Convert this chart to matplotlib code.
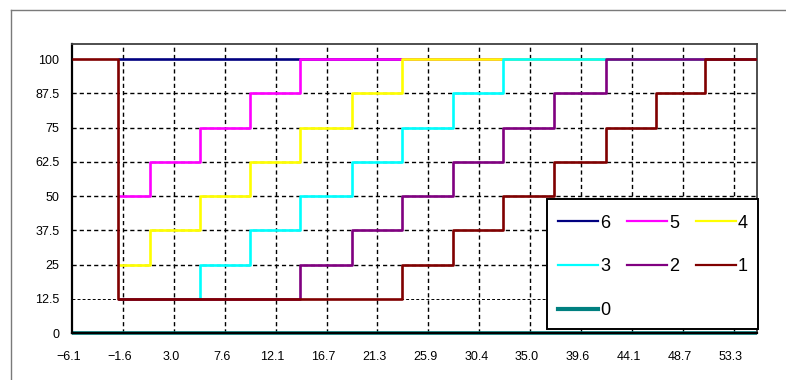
import numpy as np
import matplotlib
matplotlib.use("Agg")
import matplotlib.pyplot as plt
from matplotlib.lines import Line2D
from matplotlib.patches import Rectangle
from matplotlib.transforms import ScaledTranslation

plt.rcParams['font.family'] = ['Liberation Sans', 'DejaVu Sans']

# step positions (x where each level starts)
x_steps = [-6.1, -2.0, 0.9, 5.4, 9.9, 14.4, 19.0, 23.5, 28.1, 32.6, 37.2, 41.8, 46.3, 50.7, 55.4]

nan = np.nan
s6 = [nan, 100, 100, 100, 100, 100, 100, 100, 100, 100, 100, 100, 100, 100, 100]
s5 = [nan, 50, 62.5, 75, 87.5, 100, 100, 100, 100, 100, 100, 100, 100, 100, 100]
s4 = [nan, 25, 37.5, 50, 62.5, 75, 87.5, 100, 100, 100, 100, 100, 100, 100, 100]
s3 = [nan, 12.5, 12.5, 25, 37.5, 50, 62.5, 75, 87.5, 100, 100, 100, 100, 100, 100]
s2 = [nan, 12.5, 12.5, 12.5, 12.5, 25, 37.5, 50, 62.5, 75, 87.5, 100, 100, 100, 100]
s1 = [100, 12.5, 12.5, 12.5, 12.5, 12.5, 12.5, 25, 37.5, 50, 62.5, 75, 87.5, 100, 100]
s0 = [0, 0, 0, 0, 0, 0, 0, 0, 0, 0, 0, 0, 0, 0, 0]

series_names = ["6", "5", "4", "3", "2", "1", "0"]
series_colors = ["#000080", "#ff00ff", "#ffff00", "#00ffff", "#800080", "#800000", "#008080"]

x_tick_labels = ["\u22126.1", "\u22121.6", "3.0", "7.6", "12.1", "16.7", "21.3",
                 "25.9", "30.4", "35.0", "39.6", "44.1", "48.7", "53.3"]
x_tick_step = 4.57
y_ticks = [0, 12.5, 25, 37.5, 50, 62.5, 75, 87.5, 100]
y_tick_labels = ["0", "12.5", "25", "37.5", "50", "62.5", "75", "87.5", "100"]

fig = plt.figure(figsize=(7.86, 3.80), dpi=100)
ax = fig.add_axes([72 / 786, 1 - 333 / 380, (757 - 72) / 786, (333 - 44) / 380])

# outer frame (only top/left visible)
fig.add_artist(Line2D([11 / 786, 11 / 786], [0, 1 - 10 / 380], transform=fig.transFigure,
                      color="#7a7a7a", lw=1.0))
fig.add_artist(Line2D([11 / 786, 1], [1 - 10 / 380, 1 - 10 / 380], transform=fig.transFigure,
                      color="#7a7a7a", lw=1.0))

x_ticks = [x_steps[0] + i * x_tick_step for i in range(len(x_tick_labels))]

# dashed grid
for xv in x_ticks[1:]:
    ax.axvline(xv, color="black", lw=1.0, dashes=(3, 2.2), zorder=1)
for yv in y_ticks[1:-1]:
    ax.axhline(yv, color="black", lw=1.0 if yv != 12.5 else 0.7, dashes=(3, 2.2), zorder=1)

handles = {}
all_series = [s6, s5, s4, s3, s2, s1, s0]
for name, vals, col in zip(series_names, all_series, series_colors):
    lw = 2.6 if name == "0" else 1.9
    ln, = ax.step(x_steps, vals, where="post", color=col, lw=lw, zorder=3 if name != "0" else 2.5,
                  clip_on=False if name == "0" else True, solid_capstyle="butt")
    handles[name] = ln

ax.set_xlim(x_steps[0], x_steps[-1])
ax.set_ylim(0, 105.5)
ax.set_xticks(x_ticks)
ax.set_xticklabels(x_tick_labels)
ax.set_yticks(y_ticks)
ax.set_yticklabels(y_tick_labels)
ax.tick_params(axis="x", length=0, pad=13, labelsize=9)
ax.tick_params(axis="y", length=0, pad=9, labelsize=9)
for lab in ax.get_xticklabels():
    lab.set_transform(lab.get_transform() + ScaledTranslation(-3 / 100, 0, fig.dpi_scale_trans))

for side in ["left", "bottom"]:
    ax.spines[side].set_color("black")
    ax.spines[side].set_linewidth(1.6)
for side in ["top", "right"]:
    ax.spines[side].set_color("#404040")
    ax.spines[side].set_linewidth(1.3)

# legend box drawn separately
box = Rectangle((0.6934, 0.0138), 1.0015 - 0.6934, 0.4637 - 0.0138, transform=ax.transAxes,
                facecolor="white", edgecolor="black", lw=1.4, zorder=4, clip_on=False)
ax.add_patch(box)

# legend filled row-wise: 6 5 4 / 3 2 1 / 0
order = ["6", "3", "0", "5", "2", "4", "1"]
leg_handles = []
for n in order:
    h = handles[n]
    leg_handles.append(Line2D([], [], color=h.get_color(), lw=3.0 if n == "0" else 1.6))
leg = ax.legend(leg_handles, order, ncol=3, loc="lower right", bbox_to_anchor=(1.0015, 0.014),
                borderaxespad=0, fontsize=13, frameon=False, handlelength=2.2, handletextpad=0.12,
                columnspacing=0.95, labelspacing=1.48, borderpad=0.55)
leg.set_zorder(5)

fig.savefig("out.png", dpi=100)
